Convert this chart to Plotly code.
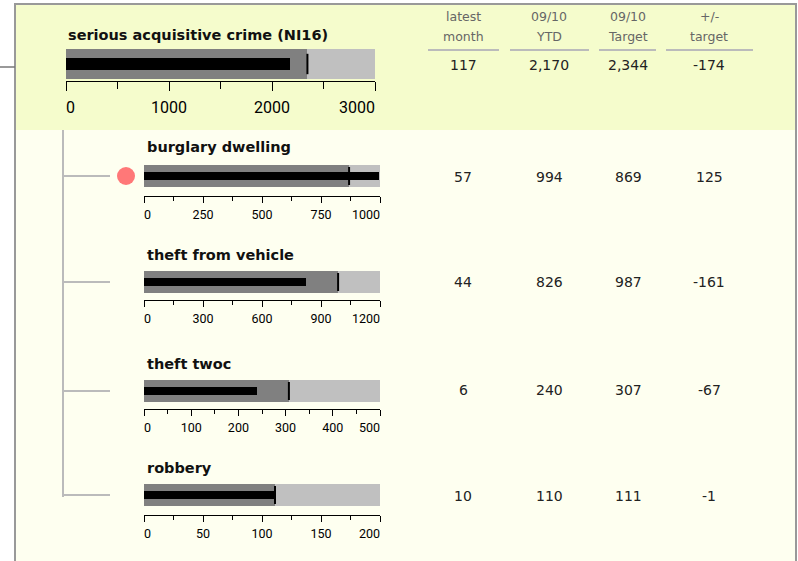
"""Bullet-chart scorecard: serious acquisitive crime (NI16) and its components."""
import plotly.graph_objects as go

# ── data ──────────────────────────────────────────────────────────────────────
measures = ["serious acquisitive crime (NI16)", "burglary dwelling",
            "theft from vehicle", "theft twoc", "robbery"]
latest_month = [117, 57, 44, 6, 10]
ytd = [2170, 994, 826, 240, 110]
target = [2344, 869, 987, 307, 111]
axis_max = [3000, 1000, 1200, 500, 200]
label_step = [1000, 250, 300, 100, 50]
minor_step = [500, 125, 150, 50, 25]
header_top = ["latest", "09/10", "09/10", "+/-"]
header_bottom = ["month", "YTD", "Target", "target"]

# ── page geometry (pixels) ────────────────────────────────────────────────────
W, H = 798, 561
_DARK = "#808080"
_LIGHT = "#c0c0c0"
_TREE = "#bbbbbb"
_FRAME = "#999999"
_NARROW = "Roboto, sans-serif"
_FIG_SPACE = "\u2007"  # digit-wide space, keeps end labels inside the scale


def px(x):
    return x / W


def py(y):
    return 1 - y / H


def tick_labels(top, step):
    vals = list(range(0, top + 1, step))
    text = [str(v) for v in vals]
    text[0] = _FIG_SPACE * len(text[0]) + text[0]
    text[-1] = text[-1] + _FIG_SPACE * len(text[-1])
    return vals, text


# bar box (top, bottom), axis line y, title y, value-row y, tick sizes
rows = [
    dict(x0=66, x1=375, top=49, bot=79, axis=81, title=35, value=65, fs=16, tl=67,
         major=9, minor=7, standoff=3),
    dict(x0=144, x1=380, top=165, bot=187, axis=196, title=147, value=177, fs=12.5, tl=146,
         major=6, minor=4, standoff=1),
    dict(x0=144, x1=380, top=271, bot=293, axis=300, title=255, value=282, fs=12.5, tl=146,
         major=6, minor=4, standoff=1),
    dict(x0=144, x1=380, top=380, bot=402, axis=409, title=364, value=390, fs=12.5, tl=146,
         major=6, minor=4, standoff=1),
    dict(x0=144, x1=380, top=484, bot=506, axis=515, title=468, value=496, fs=12.5, tl=146,
         major=6, minor=4, standoff=1),
]
col_x = [463, 549, 628, 709]
col_rule = [(428, 499), (510, 589), (599, 656), (666, 753)]

fig = go.Figure()
layout = {}
shapes = []
annotations = []

# panels and frame
shapes.append(dict(type="rect", xref="paper", yref="paper", x0=px(15), x1=px(796),
                   y0=py(561), y1=py(130), fillcolor="#fefff0", line_width=0, layer="below"))
shapes.append(dict(type="rect", xref="paper", yref="paper", x0=px(15), x1=px(796),
                   y0=py(130), y1=py(4), fillcolor="#f5fccc", line_width=0, layer="below"))
for x0, y0, x1, y1 in [(14, 4, 797, 4), (15, 3, 15, 561), (796, 3, 796, 561)]:
    shapes.append(dict(type="line", xref="paper", yref="paper", x0=px(x0), x1=px(x1),
                       y0=py(y0), y1=py(y1), line=dict(color=_FRAME, width=2)))
shapes.append(dict(type="line", xref="paper", yref="paper", x0=0, x1=px(15),
                   y0=py(67), y1=py(67), line=dict(color="#777777", width=1.5)))

# tree connector
shapes.append(dict(type="line", xref="paper", yref="paper", x0=px(63), x1=px(63),
                   y0=py(130), y1=py(497), line=dict(color=_TREE, width=2)))

for i, r in enumerate(rows):
    n = "" if i == 0 else str(i + 1)
    xa, ya = "x" + n, "y" + n
    eps = axis_max[i] * 1e-6

    for val, colour, width in [(axis_max[i], _LIGHT, 1.0), (target[i], _DARK, 1.0),
                               (ytd[i], "black", 0.38)]:
        fig.add_trace(go.Bar(x=[val], y=[0], base=0, orientation="h", width=width,
                             marker=dict(color=colour, line_width=0),
                             xaxis=xa, yaxis=ya, showlegend=False, hoverinfo="skip"))
    half = 0.34 if i == 0 else 0.41
    fig.add_trace(go.Scatter(x=[target[i], target[i]], y=[-half, half], mode="lines",
                             line=dict(color="black", width=2),
                             xaxis=xa, yaxis=ya, showlegend=False, hoverinfo="skip"))

    tv, tt = tick_labels(axis_max[i], label_step[i])
    layout["xaxis" + n] = dict(
        domain=[px(r["x0"]), px(r["x1"])], range=[-eps, axis_max[i] + eps],
        anchor="free", position=py(r["axis"]), automargin=False,
        showgrid=False, zeroline=False, showline=True, linecolor="black", linewidth=1,
        ticks="outside", ticklen=r["major"], tickwidth=1, tickcolor="black",
        ticklabelstandoff=r["standoff"],
        tickmode="array", tickvals=tv, ticktext=tt,
        minor=dict(dtick=minor_step[i], tick0=0, ticks="outside", ticklen=r["minor"],
                   tickcolor="black", showgrid=False),
        tickfont=dict(family=_NARROW, size=r["fs"], color="black"),
        fixedrange=True,
    )
    layout["yaxis" + n] = dict(domain=[py(r["bot"]), py(r["top"])], range=[-0.5, 0.5],
                               visible=False, fixedrange=True, anchor=xa, automargin=False)

    annotations.append(dict(text="<b>" + measures[i] + "</b>", xref="paper", yref="paper",
                            x=px(r["tl"] - 1), y=py(r["title"]), xanchor="left",
                            yanchor="middle", showarrow=False,
                            font=dict(family="DejaVu Sans", size=14.5, color="#111111")))

    values = [latest_month[i], ytd[i], target[i], ytd[i] - target[i]]
    for cx, v in zip(col_x, values):
        annotations.append(dict(text=f"{v:,}", xref="paper", yref="paper",
                                x=px(cx), y=py(r["value"]), xanchor="center",
                                yanchor="middle", showarrow=False,
                                font=dict(family="DejaVu Sans", size=14, color="#222222")))

    if i > 0:
        shapes.append(dict(type="line", xref="paper", yref=ya, x0=px(63), x1=px(110),
                           y0=0, y1=0, line=dict(color=_TREE, width=2)))

# status dot for components over target
layout["xaxis6"] = dict(domain=[px(116), px(136)], range=[-1, 1], visible=False,
                        fixedrange=True, anchor="y2", automargin=False)
for i in range(1, len(measures)):
    if ytd[i] - target[i] > 0:
        fig.add_trace(go.Scatter(x=[0], y=[0], mode="markers",
                                 marker=dict(size=18, color="#ff7878"),
                                 xaxis="x6", yaxis="y" + str(i + 1),
                                 showlegend=False, hoverinfo="skip", cliponaxis=False))

# column headers
for cx, top, bottom, (a, b) in zip(col_x, header_top, header_bottom, col_rule):
    for txt, yy in [(top, 17), (bottom, 36)]:
        annotations.append(dict(text=txt, xref="paper", yref="paper", x=px(cx), y=py(yy),
                                xanchor="center", yanchor="middle", showarrow=False,
                                font=dict(family="DejaVu Sans", size=12.5, color="#666666")))
    shapes.append(dict(type="line", xref="paper", yref="paper", x0=px(a), x1=px(b),
                       y0=py(50), y1=py(50), line=dict(color=_TREE, width=2)))

fig.update_layout(
    width=W, height=H, margin=dict(l=0, r=0, t=0, b=0, autoexpand=False),
    paper_bgcolor="white", plot_bgcolor="rgba(0,0,0,0)",
    barmode="overlay", bargap=0, showlegend=False,
    shapes=shapes, annotations=annotations, **layout,
)

pin_page = (
    "var gd = document.getElementById('{plot_id}');"
    "gd.style.position = 'absolute'; gd.style.left = '0px'; gd.style.top = '0px';"
    "document.body.style.margin = '0px'; document.body.style.overflow = 'hidden';"
    "document.documentElement.style.overflow = 'hidden';"
)
fig.write_html("out.html", post_script=pin_page,
               config={"displayModeBar": False, "responsive": False})
